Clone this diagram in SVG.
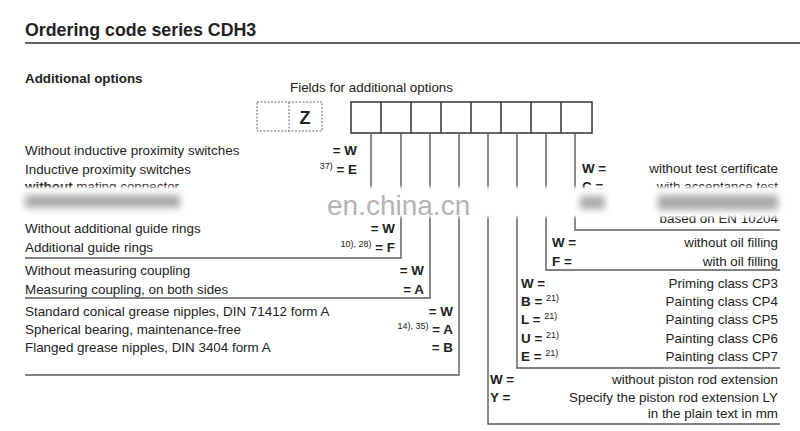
<svg xmlns="http://www.w3.org/2000/svg" width="800" height="431" viewBox="0 0 800 431">
<style>
text{font-family:"Liberation Sans",Arial,sans-serif;fill:#222}
.t{font-size:13.4px}
.b{font-weight:bold}
.e{text-anchor:end}
.sup{font-size:9px;font-weight:normal}
.ln{fill:none;stroke:#5a5a5a;stroke-width:1.4}
.box{fill:#fff;stroke:#333;stroke-width:1.5}
.dot{fill:none;stroke:#666;stroke-width:1;stroke-dasharray:2 1.5}
</style>
<defs>
<filter id="blur" x="-20%" y="-100%" width="140%" height="300%"><feGaussianBlur stdDeviation="3.5"/></filter>
<filter id="blur2" x="-5%" y="-50%" width="110%" height="200%"><feGaussianBlur stdDeviation="1.8"/></filter>
</defs>
<rect width="800" height="431" fill="#fff"/>
<text x="25" y="36" font-size="17.8" class="b">Ordering code series CDH3</text>
<line x1="25" y1="43" x2="800" y2="43" stroke="#333" stroke-width="1.5"/>
<text x="25" y="83" font-size="13.4" class="b">Additional options</text>
<text x="290" y="92" class="t">Fields for additional options</text>

<g id="z-fields">
<rect x="257" y="102" width="65" height="29" class="dot"/>
<line x1="289" y1="102" x2="289" y2="131" class="dot"/>
<text x="305" y="124" font-size="18" class="b" text-anchor="middle">Z</text>
</g>

<g id="option-fields">
<rect x="351" y="102" width="241" height="31" class="box"/>
<path d="M381 102V133M411 102V133M441 102V133M471 102V133M501 102V133M531 102V133M561 102V133" stroke="#333" stroke-width="1.5"/>
</g>

<g id="connectors">
<path class="ln" d="M371 133V200"/>
<path class="ln" d="M401 133V258H25"/>
<path class="ln" d="M430 133V298H25"/>
<path class="ln" d="M459 133V375H25"/>
<path class="ln" d="M488 133V424H780"/>
<path class="ln" d="M517 133V368H780"/>
<path class="ln" d="M546 133V270H780"/>
<path class="ln" d="M575 133V230H780"/>
</g>

<g id="proximity-switches">
<text x="25" y="155" class="t">Without inductive proximity switches</text>
<text x="357" y="155" class="t b e">= W</text>
<text x="25" y="174" class="t">Inductive proximity switches</text>
<text x="357" y="174" class="t b e"><tspan class="sup" dy="-5">37)</tspan><tspan dy="5"> = E</tspan></text>
<text x="25" y="191" class="t"><tspan class="b">without</tspan> mating connector</text>
</g>

<g id="guide-rings">
<text x="25" y="233" class="t">Without additional guide rings</text>
<text x="395" y="233" class="t b e">= W</text>
<text x="25" y="252" class="t">Additional guide rings</text>
<text x="395" y="252" class="t b e"><tspan class="sup" dy="-5">10), 28)</tspan><tspan dy="5"> = F</tspan></text>
</g>

<g id="measuring-coupling">
<text x="25" y="275" class="t">Without measuring coupling</text>
<text x="424" y="275" class="t b e">= W</text>
<text x="25" y="294" class="t">Measuring coupling, on both sides</text>
<text x="424" y="294" class="t b e">= A</text>
</g>

<g id="grease-nipples">
<text x="25" y="316" class="t">Standard conical grease nipples, DIN 71412 form A</text>
<text x="453" y="316" class="t b e">= W</text>
<text x="25" y="334" class="t">Spherical bearing, maintenance-free</text>
<text x="453" y="334" class="t b e"><tspan class="sup" dy="-5">14), 35)</tspan><tspan dy="5"> = A</tspan></text>
<text x="25" y="352" class="t">Flanged grease nipples, DIN 3404 form A</text>
<text x="453" y="352" class="t b e">= B</text>
</g>

<g id="test-certificate">
<text x="582" y="173" class="t b">W =</text>
<text x="778" y="173" class="t e">without test certificate</text>
<text x="582" y="191" class="t b">C =</text>
<text x="778" y="191" class="t e">with acceptance test</text>
<text x="778" y="223" class="t e">based on EN 10204</text>
</g>

<g id="oil-filling">
<text x="552" y="247" class="t b">W =</text>
<text x="778" y="247" class="t e">without oil filling</text>
<text x="552" y="266" class="t b">F =</text>
<text x="778" y="266" class="t e">with oil filling</text>
</g>

<g id="painting">
<text x="521" y="288" class="t b">W =</text>
<text x="778" y="288" class="t e">Priming class CP3</text>
<text x="521" y="306" class="t b">B = <tspan class="sup" dy="-5">21)</tspan></text>
<text x="778" y="306" class="t e">Painting class CP4</text>
<text x="521" y="324" class="t b">L = <tspan class="sup" dy="-5">21)</tspan></text>
<text x="778" y="324" class="t e">Painting class CP5</text>
<text x="521" y="343" class="t b">U = <tspan class="sup" dy="-5">21)</tspan></text>
<text x="778" y="343" class="t e">Painting class CP6</text>
<text x="521" y="361" class="t b">E = <tspan class="sup" dy="-5">21)</tspan></text>
<text x="778" y="361" class="t e">Painting class CP7</text>
</g>

<g id="piston-rod">
<text x="490" y="384" class="t b">W =</text>
<text x="778" y="384" class="t e">without piston rod extension</text>
<text x="490" y="402" class="t b">Y =</text>
<text x="778" y="402" class="t e">Specify the piston rod extension LY</text>
<text x="778" y="418" class="t e">in the plain text in mm</text>
</g>

<g id="blur-band">
<rect x="10" y="187" width="790" height="30" fill="#fff" filter="url(#blur2)"/>
<rect x="25" y="195" width="155" height="13" fill="#aaa" filter="url(#blur)"/>
<rect x="580" y="196" width="25" height="13" fill="#aaa" filter="url(#blur)"/>
<rect x="658" y="195" width="120" height="15" fill="#aaa" filter="url(#blur)"/>
</g>
<text x="327" y="215" font-size="28" style="fill:#b4b4b4">en.china.cn</text>
</svg>
